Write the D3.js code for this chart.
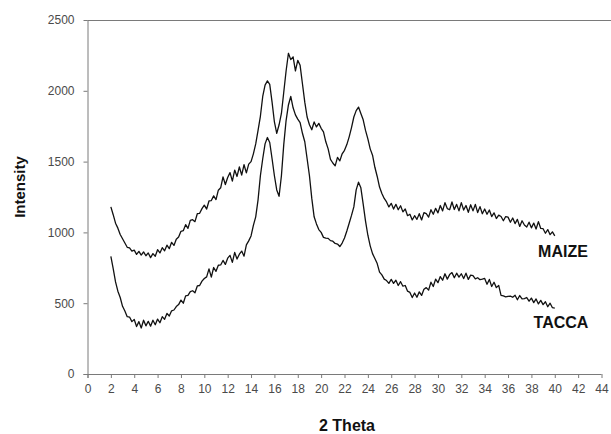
<!DOCTYPE html>
<html>
<head>
<meta charset="utf-8">
<script src="https://cdn.jsdelivr.net/npm/d3@7"></script>
<style>
  body { margin: 0; background: #fff; }
  svg { display: block; font-family: "Liberation Sans", Arial, sans-serif; }
  .axis path, .axis line { stroke: #7a7a7a; }
  .axis text { fill: #4a4a4a; font-size: 12px; }
  .label { font-weight: bold; fill: #111; }
</style>
</head>
<body>
<svg id="chart" width="611" height="434"></svg>
<script>
"use strict";

// 2 theta readings start at 2 deg, one every 0.2 deg
var thetaStart = 2, thetaStep = 0.2;

var maize = [
  1180, 1125, 1065, 1030, 985, 955, 925, 895, 890, 868,
  875, 845, 866, 840, 862, 835, 855, 822, 850, 832,
  878, 855, 892, 870, 910, 885, 930, 908, 952, 968,
  1008, 1012, 1055, 1028, 1085, 1090, 1076, 1132, 1135, 1168,
  1192, 1165, 1222, 1225, 1258, 1232, 1298, 1315, 1392, 1338,
  1388, 1422, 1362, 1440, 1395, 1462, 1405, 1478, 1420, 1482,
  1500, 1555, 1625, 1720, 1820, 1960, 2040, 2070, 2045, 1920,
  1780, 1700, 1760, 1840, 1990, 2140, 2265, 2220, 2240, 2140,
  2215, 2180, 2050, 1920, 1815, 1760, 1725, 1780, 1745, 1770,
  1735, 1710, 1640, 1590, 1515, 1490, 1470, 1530, 1505, 1555,
  1580, 1620, 1675, 1740, 1815, 1860, 1885, 1840, 1795, 1720,
  1660, 1590, 1545, 1460, 1395, 1320, 1275, 1240, 1215, 1180,
  1205, 1165, 1198, 1160, 1188, 1145, 1165, 1118, 1128, 1088,
  1118, 1092, 1132, 1088, 1140, 1132, 1108, 1160, 1128, 1170,
  1138, 1190, 1152, 1210, 1168, 1160, 1215, 1162, 1198, 1152,
  1210, 1158, 1190, 1142, 1195, 1152, 1198, 1140, 1182, 1132,
  1165, 1128, 1158, 1112, 1138, 1098, 1122, 1112, 1082, 1112,
  1108, 1072, 1102, 1062, 1092, 1042, 1082, 1052, 1038, 1072,
  1032, 1066, 1024, 1076, 1028, 1026, 994, 1020, 984, 1004,
  975
];

var tacca = [
  830, 745, 650, 585, 540, 478, 445, 405, 402, 370,
  385, 335, 370, 325, 380, 340, 372, 338, 380, 348,
  388, 362, 405, 386, 428, 410, 446, 452, 476, 490,
  522, 500, 552, 555, 582, 588, 574, 622, 625, 656,
  674, 686, 742, 684, 752, 725, 768, 770, 802, 774,
  818, 838, 788, 858, 812, 846, 868, 832, 912, 940,
  975, 1050, 1110, 1230, 1400, 1520, 1625, 1670, 1635, 1520,
  1400, 1300, 1255, 1400, 1620, 1790, 1900, 1960, 1880, 1830,
  1800, 1775, 1700, 1640, 1520, 1400, 1240, 1110, 1060, 1020,
  1000, 965, 960, 958, 942, 938, 922, 918, 900, 925,
  960, 1010, 1065, 1120, 1180, 1300, 1355, 1315, 1200, 1080,
  980, 905, 850, 815, 780, 720, 700, 670, 660, 640,
  668, 640, 662, 625, 652, 620, 625, 585, 576, 540,
  572, 542, 580, 555, 598, 610, 592, 648, 618, 670,
  645, 688, 662, 708, 670, 702, 716, 680, 712, 684,
  708, 674, 712, 668, 698, 694, 672, 680, 666, 670,
  675, 634, 668, 618, 648, 610, 626, 555, 552, 545,
  548, 550, 542, 556, 524, 554, 530, 532, 540, 514,
  536, 504, 530, 495, 520, 490, 510, 475, 500, 468,
  465
];

var xTicks = d3.range(0, 46, 2);
var yTicks = [0, 500, 1000, 1500, 2000, 2500];
var seriesNames = ["MAIZE", "TACCA"];

var svg = d3.select("#chart"),
  margin = {top: 20, left: 87.5, bottom: 60},
  height = 434 - margin.top - margin.bottom,
  x = d3.scaleLinear().domain([0, 44]).range([margin.left, 601.5]),
  y = d3.scaleLinear().domain([0, 2500]).range([margin.top + height, margin.top]);

// x axis
svg.append("g")
  .attr("class", "axis")
  .attr("transform", "translate(0," + y(0) + ")")
  .call(d3.axisBottom(x).tickValues(xTicks).tickSize(4).tickSizeOuter(0).tickPadding(6))
  .select(".domain").attr("d", "M" + (x(0) - 4) + ",0.5H" + x(44));

// y axis
svg.append("g")
  .attr("class", "axis")
  .attr("transform", "translate(" + x(0) + ",0)")
  .call(d3.axisLeft(y).tickValues(yTicks).tickFormat(d3.format("d")).tickSize(4).tickSizeOuter(0).tickPadding(9))
  .select(".domain").attr("d", "M0.5," + (y(0) + 4) + "V" + y(2500));

// top frame line
svg.append("line")
  .attr("x1", x(0)).attr("x2", 611)
  .attr("y1", y(2500) + 0.5).attr("y2", y(2500) + 0.5)
  .attr("stroke", "#7a7a7a");

var line = d3.line()
  .x(function(d, i) { return x(thetaStart + i * thetaStep); })
  .y(function(d) { return y(d); });

[maize, tacca].forEach(function(s) {
  svg.append("path")
    .datum(s)
    .attr("fill", "none")
    .attr("stroke", "#111")
    .attr("stroke-width", 1.3)
    .attr("stroke-linejoin", "round")
    .attr("d", line);
});

// series labels
svg.append("text").attr("class", "label")
  .attr("x", 563).attr("y", 257).attr("text-anchor", "middle")
  .style("font-size", "16px").text(seriesNames[0]);
svg.append("text").attr("class", "label")
  .attr("x", 561).attr("y", 328).attr("text-anchor", "middle")
  .style("font-size", "16px").text(seriesNames[1]);

// axis titles
svg.append("text").attr("class", "label")
  .attr("x", 347).attr("y", 431).attr("text-anchor", "middle")
  .style("font-size", "16px").text("2 Theta");
svg.append("text").attr("class", "label")
  .attr("transform", "translate(25,187) rotate(-90)")
  .attr("text-anchor", "middle")
  .style("font-size", "15px").text("Intensity");
</script>
</body>
</html>
